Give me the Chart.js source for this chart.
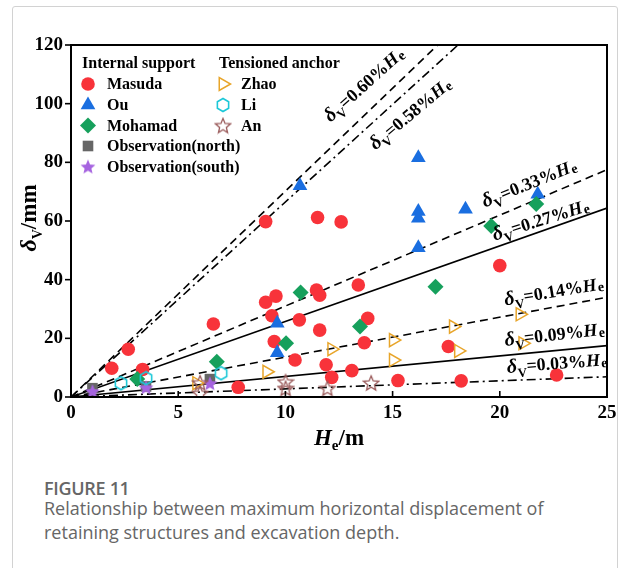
<!DOCTYPE html>
<html>
<head>
<meta charset="utf-8">
<script src="https://cdn.jsdelivr.net/npm/chart.js@4.4.1/dist/chart.umd.min.js"></script>
<style>
  html, body { margin: 0; padding: 0; background: #fff; }
  body { width: 624px; height: 568px; position: relative; overflow: hidden; }
  .frame { position: absolute; left: 12px; top: 6px; width: 604px; height: 620px; border: 1px solid #d2d2d2; border-radius: 3px; }
  .chart-box { position: absolute; left: 0; top: 0; width: 624px; height: 460px; }
  .caption { position: absolute; left: 44px; top: 476px; width: 540px; font-family: "Open Sans", sans-serif; color: #666; }
  .caption .fig { font-size: 18px; font-weight: 600; line-height: 24px; letter-spacing: -0.3px; }
  .caption .txt { font-size: 18px; line-height: 24px; margin-top: -4px; }
</style>
</head>
<body>
<div class="frame"></div>
<div class="chart-box"><canvas id="dispChart"></canvas></div>
<div class="caption">
  <div class="fig">FIGURE 11</div>
  <div class="txt">Relationship between maximum horizontal displacement of retaining structures and excavation depth.</div>
</div>
<script>
// ===================== DATA =====================
const xTicks = [0, 5, 10, 15, 20, 25];
const yTicks = [0, 20, 40, 60, 80, 100, 120];

// internal support
const masuda = [[1.9, 9.8], [2.67, 16.3], [3.34, 9.4], [6.64, 24.9], [7.8, 3.3], [9.08, 59.8],
  [11.5, 61.2], [12.6, 59.7], [9.08, 32.3], [9.56, 34.4], [9.37, 27.7], [11.45, 36.5],
  [11.6, 34.7], [10.65, 26.3], [9.48, 18.9], [11.6, 22.8], [10.45, 12.6], [11.9, 11.0],
  [12.16, 6.7], [13.1, 9.0], [15.25, 5.6], [13.68, 18.5], [13.84, 26.8], [13.4, 38.2],
  [18.2, 5.5], [22.65, 7.5], [20.0, 44.8], [17.6, 17.2]];
const ou = [[10.68, 72.0], [9.62, 25.1], [9.62, 15.1], [16.2, 81.6], [16.2, 63.2], [16.2, 60.9],
  [18.4, 64.0], [21.77, 69.1], [16.2, 50.9]];
const mohamad = [[3.09, 6.1], [6.8, 12.0], [10.71, 35.6], [10.03, 18.3], [13.48, 24.0],
  [17.0, 37.6], [19.6, 58.3], [21.7, 65.8]];
const obsNorth = [[1.0, 3.0], [6.48, 6.1], [3.5, 3.6]];
const obsSouth = [[1.0, 2.0], [6.48, 4.7], [3.5, 3.3]];

// tensioned anchor
const zhao = [[5.86, 4.7], [9.13, 8.6], [12.16, 16.3], [15.03, 19.4], [15.03, 12.6],
  [17.83, 24.0], [18.07, 15.7], [20.94, 28.2], [21.07, 18.3]];
const li = [[2.33, 4.7], [3.5, 6.4], [7.0, 8.1]];
const an = [[6.02, 4.9], [6.02, 1.3], [10.01, 5.2], [10.01, 3.0], [11.96, 3.0], [14.0, 4.8]];

// reference lines (start, end)
const line060 = [[0, 0], [17.1, 120]];
const line058 = [[0, 0], [18.05, 120]];
const line033 = [[0, 0], [25, 77.5]];
const line027 = [[0, 0], [25, 64.4]];
const line014 = [[0, 0], [25, 34.0]];
const line009 = [[0, 0], [25, 17.5]];
const line003 = [[0, 0], [25, 6.9]];

const lineLabels = ["0.60%", "0.58%", "0.33%", "0.27%", "0.14%", "0.09%", "0.03%"];
// ===================== END OF DATA =====================

const serif = '"Liberation Serif", "Times New Roman", serif';
const toXY = arr => arr.map(p => ({ x: p[0], y: p[1] }));

// custom marker canvases (filled star, open star, open hexagon)
function makeStar(size, fill, stroke) {
  const c = document.createElement("canvas");
  c.width = size; c.height = size;
  const g = c.getContext("2d");
  const cx = size / 2, cy = size / 2 + 0.8, R = size / 2 - 1.2, r = R * 0.45;
  g.beginPath();
  for (let i = 0; i < 10; i++) {
    const a = -Math.PI / 2 + i * Math.PI / 5;
    const rr = i % 2 === 0 ? R : r;
    g.lineTo(cx + rr * Math.cos(a), cy + rr * Math.sin(a));
  }
  g.closePath();
  if (fill) { g.fillStyle = fill; g.fill(); }
  if (stroke) { g.strokeStyle = stroke; g.lineWidth = 1.3; g.stroke(); }
  return c;
}
function makeHex(size, stroke) {
  const c = document.createElement("canvas");
  c.width = size; c.height = size;
  const g = c.getContext("2d");
  const R = size / 2 - 1.5;
  g.beginPath();
  for (let i = 0; i < 6; i++) {
    const a = Math.PI / 6 + i * Math.PI / 3;
    g.lineTo(size / 2 + R * Math.cos(a), size / 2 + R * Math.sin(a));
  }
  g.closePath();
  g.strokeStyle = stroke; g.lineWidth = 1.6; g.stroke();
  return c;
}

const purpleStar = makeStar(18, "#a664e0", null);
const brownStar = makeStar(18, null, "#9a5a5a");
const cyanHex = makeHex(16, "#1cc8d8");

function scatterSet(label, data, style) {
  return Object.assign({
    type: "scatter", label: label, data: toXY(data), order: 0,
    pointBorderWidth: 0, pointHoverRadius: 7
  }, style);
}
function refLine(label, data, dash, width) {
  return {
    type: "line", label: label, data: toXY(data), order: 10,
    borderColor: "#000", borderWidth: width, borderDash: dash,
    pointRadius: 0, fill: false, tension: 0
  };
}

const dashA = [8, 5];
const dashDot = [9, 4, 2, 4];

const datasets = [
  refLine("0.60%", line060, dashA, 1.6),
  refLine("0.58%", line058, dashDot, 1.6),
  refLine("0.33%", line033, dashA, 1.6),
  refLine("0.27%", line027, [], 1.6),
  refLine("0.14%", line014, dashA, 1.6),
  refLine("0.09%", line009, [], 1.6),
  refLine("0.03%", line003, dashDot, 1.6),
  scatterSet("An", an, { pointStyle: brownStar, pointRadius: 8 }),
  scatterSet("Li", li, { pointStyle: cyanHex, pointRadius: 8 }),
  scatterSet("Zhao", zhao, { pointStyle: "triangle", rotation: 90, pointRadius: 7.5,
    backgroundColor: "rgba(0,0,0,0)", borderColor: "#e8a52a", pointBorderWidth: 1.5 }),
  scatterSet("Observation(south)", obsSouth, { pointStyle: purpleStar, pointRadius: 8 }),
  scatterSet("Observation(north)", obsNorth, { pointStyle: "rect", pointRadius: 7.5,
    backgroundColor: "#666666" }),
  scatterSet("Mohamad", mohamad, { pointStyle: "rectRot", pointRadius: 8,
    backgroundColor: "#16a05c" }),
  scatterSet("Ou", ou, { pointStyle: "triangle", pointRadius: 8.5,
    backgroundColor: "#1a6ee0" }),
  scatterSet("Masuda", masuda, { pointStyle: "circle", pointRadius: 6.8,
    backgroundColor: "#f8333a" })
];

// draws text made of several pieces (sub/superscripts, italics)
function drawRich(ctx, parts, x, y, angleDeg, align) {
  ctx.save();
  ctx.translate(x, y);
  ctx.rotate(angleDeg * Math.PI / 180);
  ctx.textBaseline = "alphabetic";
  ctx.textAlign = "left";
  let total = 0;
  parts.forEach(p => { ctx.font = p.font; total += ctx.measureText(p.t).width + (p.gap || 0); });
  let cx = align === "center" ? -total / 2 : 0;
  parts.forEach(p => {
    ctx.font = p.font;
    ctx.fillText(p.t, cx, p.dy || 0);
    cx += ctx.measureText(p.t).width + (p.gap || 0);
  });
  ctx.restore();
}

function lineLabelParts(pct) {
  return [
    { t: "δ", font: `bold italic 20px ${serif}` },
    { t: "V", font: `bold 13px ${serif}`, dy: 5 },
    { t: "=" + pct, font: `bold 18px ${serif}` },
    { t: "H", font: `bold italic 18px ${serif}`, gap: 1 },
    { t: "e", font: `bold 14px ${serif}`, dy: 2 }
  ];
}

// label anchors in data units + text angle
const labelPos = [[12.1, 93.5, -42], [14.2, 84.0, -40], [19.3, 64.6, -22], [19.75, 53.3, -17.5],
  [20.25, 31.2, -9.5], [20.25, 17.4, -6.5], [20.35, 8.2, -4.5]];

const legendLeft = [
  ["Masuda", 14], ["Ou", 13], ["Mohamad", 12], ["Observation(north)", 11], ["Observation(south)", 10]
];
const legendRight = [["Zhao", 9], ["Li", 8], ["An", 7]];

const decorPlugin = {
  id: "decor",
  afterDraw(chart) {
    const ctx = chart.ctx;
    const a = chart.chartArea;
    const xs = chart.scales.x, ys = chart.scales.y;
    ctx.save();
    ctx.fillStyle = "#000";
    ctx.strokeStyle = "#000";

    // frame
    ctx.lineWidth = 2;
    ctx.strokeRect(a.left, a.top, a.right - a.left, a.bottom - a.top);

    // ticks: y outward, x inward
    ctx.lineWidth = 1.6;
    yTicks.forEach(v => {
      const py = ys.getPixelForValue(v);
      ctx.beginPath(); ctx.moveTo(a.left, py); ctx.lineTo(a.left - 6, py); ctx.stroke();
    });
    xTicks.forEach(v => {
      const px = xs.getPixelForValue(v);
      ctx.beginPath(); ctx.moveTo(px, a.bottom); ctx.lineTo(px, a.bottom - 6); ctx.stroke();
    });

    // line labels
    labelPos.forEach((p, i) => {
      drawRich(ctx, lineLabelParts(lineLabels[i]), xs.getPixelForValue(p[0]), ys.getPixelForValue(p[1]), p[2]);
    });

    // axis titles
    drawRich(ctx, [
      { t: "H", font: `bold italic 23px ${serif}` },
      { t: "e", font: `bold 15px ${serif}`, dy: 5 },
      { t: "/m", font: `bold 23px ${serif}` }
    ], (a.left + a.right) / 2, 445, 0, "center");
    drawRich(ctx, [
      { t: "δ", font: `bold italic 24px ${serif}` },
      { t: "V", font: `bold 14px ${serif}`, dy: 6 },
      { t: "/mm", font: `bold 23px ${serif}` }
    ], 36, (a.top + a.bottom) / 2 - 3, -90, "center");

    // legend
    ctx.font = `bold 16px ${serif}`;
    ctx.textBaseline = "middle";
    ctx.textAlign = "left";
    ctx.fillText("Internal support", 82, 64);
    ctx.fillText("Tensioned anchor", 219, 64);
    const rowY = [84, 105, 125.5, 146, 166.5];
    const drawItem = (label, dsIndex, mx, tx, y) => {
      const ds = chart.data.datasets[dsIndex];
      ctx.save();
      ctx.fillStyle = ds.backgroundColor || "#000";
      ctx.strokeStyle = ds.borderColor || "#000";
      ctx.lineWidth = ds.pointBorderWidth || 0;
      Chart.helpers.drawPoint(ctx, {
        pointStyle: ds.pointStyle, rotation: ds.rotation || 0,
        radius: ds.pointRadius, borderWidth: ds.pointBorderWidth || 0
      }, mx, y);
      ctx.restore();
      ctx.fillStyle = "#000";
      ctx.font = `bold 16px ${serif}`;
      ctx.fillText(label, tx, y + 1);
    };
    legendLeft.forEach((it, i) => drawItem(it[0], it[1], 88, 107, rowY[i]));
    legendRight.forEach((it, i) => drawItem(it[0], it[1], 223, 241, rowY[i]));
    ctx.restore();
  }
};

const ctx = document.getElementById("dispChart").getContext("2d");
const dispChart = new Chart(ctx, {
  data: { datasets: datasets },
  options: {
    responsive: true,
    maintainAspectRatio: false,
    animation: false,
    layout: { padding: { top: 45, right: 17, left: 0, bottom: 0 } },
    plugins: { legend: { display: false }, tooltip: { enabled: false } },
    scales: {
      x: {
        type: "linear", min: 0, max: 25,
        grid: { display: false, drawTicks: false }, border: { display: false },
        afterBuildTicks: s => { s.ticks = xTicks.map(v => ({ value: v })); },
        afterFit: s => { s.height = 63; },
        ticks: { color: "#000", padding: 5, maxRotation: 0, font: { family: serif, size: 19, weight: "bold" } }
      },
      y: {
        type: "linear", min: 0, max: 120,
        grid: { display: false, drawTicks: false }, border: { display: false },
        afterBuildTicks: s => { s.ticks = yTicks.map(v => ({ value: v })); },
        afterFit: s => { s.width = 71; },
        ticks: { color: "#000", padding: 8, font: { family: serif, size: 19, weight: "bold" } }
      }
    }
  },
  plugins: [decorPlugin]
});
</script>
</body>
</html>
